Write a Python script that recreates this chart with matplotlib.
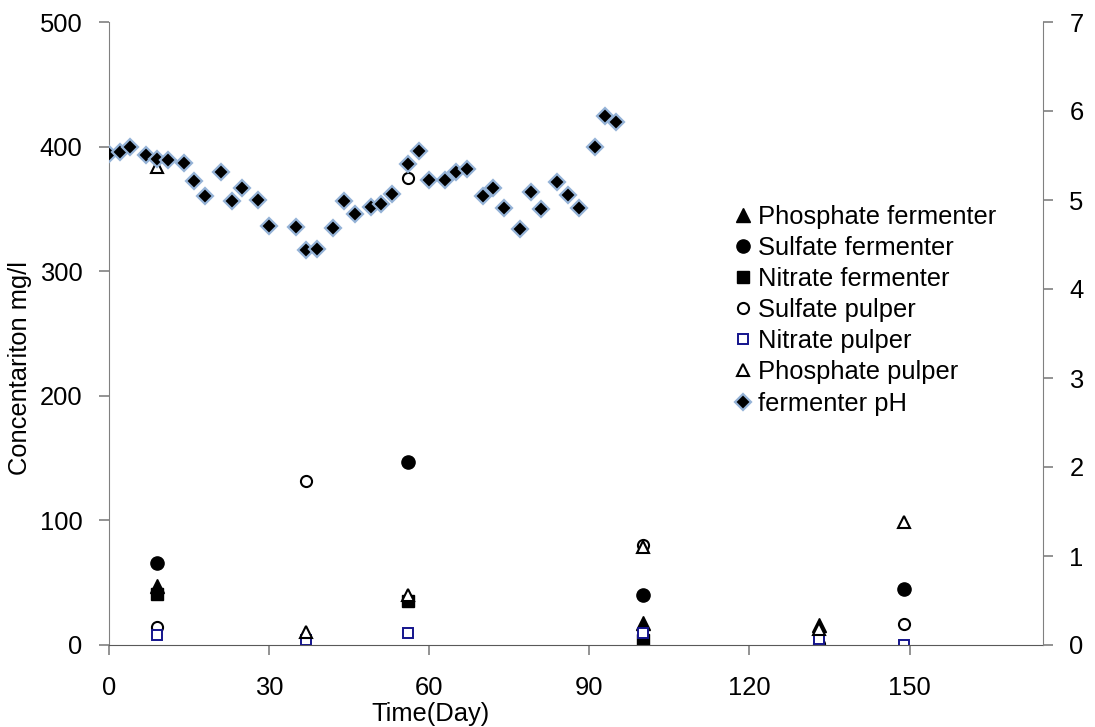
import matplotlib
matplotlib.use("Agg")
import matplotlib.pyplot as plt

plt.rcParams['font.family'] = ['Liberation Sans', 'DejaVu Sans']

# Ion concentrations (mg/l) by sampling day
phos_ferm_day = [9, 100, 133]
phos_ferm_val = [47, 17.5, 16]

sulf_ferm_day = [9, 56, 100, 149]
sulf_ferm_val = [66, 147, 40, 45]

nitr_ferm_day = [9, 56, 100]
nitr_ferm_val = [41, 35.5, 4]

sulf_pulp_day = [9, 37, 56, 100, 133, 149]
sulf_pulp_val = [14.5, 132, 375, 80.5, 0.5, 17]

nitr_pulp_day = [9, 37, 56, 100, 133, 149]
nitr_pulp_val = [8, 4, 9.5, 10, 4.5, 0]

phos_pulp_day = [9, 37, 56, 100, 133, 149]
phos_pulp_val = [384, 10.5, 40, 79, 12.5, 99]

# Fermenter pH by day
ph_day = [0, 2, 4, 7, 9, 11, 14, 16, 18, 21, 23, 25, 28, 30, 35, 37, 39, 42,
          44, 46, 49, 51, 53, 56, 58, 60, 63, 65, 67, 70, 72, 74, 77, 79, 81,
          84, 86, 88, 91, 93, 95]
ph_val = [5.52, 5.54, 5.59, 5.51, 5.46, 5.45, 5.42, 5.21, 5.05, 5.31, 4.99,
          5.14, 5.00, 4.71, 4.70, 4.44, 4.45, 4.68, 4.99, 4.84, 4.92, 4.96,
          5.07, 5.40, 5.55, 5.22, 5.22, 5.32, 5.35, 5.05, 5.14, 4.91, 4.67,
          5.09, 4.90, 5.20, 5.06, 4.91, 5.59, 5.94, 5.88]

x_ticks = [0, 30, 60, 90, 120, 150]
y_ticks = [0, 100, 200, 300, 400, 500]
y2_ticks = [0, 1, 2, 3, 4, 5, 6, 7]

FS = 18.4
NAVY = '#14148C'
SPINE = '#808080'

fig = plt.figure(figsize=(10.95, 7.27), dpi=100)
ax = fig.add_axes([109 / 1095, 1 - 645 / 727, (1043 - 109) / 1095, (645 - 22) / 727])

s1, = ax.plot(phos_ferm_day, phos_ferm_val, ls='none', marker='^', ms=9.5,
              mfc='black', mec='black', label='Phosphate fermenter')
s2, = ax.plot(sulf_ferm_day, sulf_ferm_val, ls='none', marker='o', ms=9.5,
              mfc='black', mec='black', label='Sulfate fermenter')
s3, = ax.plot(nitr_ferm_day, nitr_ferm_val, ls='none', marker='s', ms=9,
              mfc='black', mec='black', label='Nitrate fermenter')
s4, = ax.plot(sulf_pulp_day, sulf_pulp_val, ls='none', marker='o', ms=8,
              mfc='white', mec='black', mew=1.5, label='Sulfate pulper')
s5, = ax.plot(nitr_pulp_day, nitr_pulp_val, ls='none', marker='s', ms=7,
              mfc='white', mec=NAVY, mew=1.4, label='Nitrate pulper')
s6, = ax.plot(phos_pulp_day, phos_pulp_val, ls='none', marker='^', ms=8,
              mfc='white', mec='black', mew=1.5, label='Phosphate pulper')

ax.set_xlim(0, 175)
ax.set_ylim(0, 500)
ax.set_xticks(x_ticks)
ax.set_yticks(y_ticks)

ax2 = ax.twinx()
s7, = ax2.plot(ph_day, ph_val, ls='none', marker='D', ms=7.8,
               mfc='black', mec='#95B3D7', mew=1.6, label='fermenter pH')
ax2.set_ylim(0, 7)
ax2.set_yticks(y2_ticks)

for a in (ax, ax2):
    a.spines['top'].set_visible(False)
    a.tick_params(labelsize=FS, colors=SPINE, labelcolor='black', width=1.2, length=7)
ax.spines['left'].set_color(SPINE)
ax.spines['bottom'].set_color('#595959')
ax.spines['right'].set_visible(False)
ax2.spines['left'].set_visible(False)
ax2.spines['bottom'].set_visible(False)
ax2.spines['right'].set_color(SPINE)
ax.tick_params(axis='y', pad=12)
ax.tick_params(axis='x', pad=15)
ax2.tick_params(axis='y', pad=12)

ax.set_ylabel('Concentariton mg/l', fontsize=FS)
ax.yaxis.set_label_coords(-0.082, 0.445)
ax.set_xlabel('Time(Day)', fontsize=FS)
ax.xaxis.set_label_coords(0.344, -0.092)

handles = [s1, s2, s3, s4, s5, s6, s7]
ax2.legend(handles=handles, loc='upper left', bbox_to_anchor=(0.6715, 0.7185),
           bbox_transform=fig.transFigure, frameon=False, fontsize=FS,
           borderpad=0, labelspacing=0.28, handlelength=0.6, handletextpad=0.3,
           markerscale=1.0, borderaxespad=0)

fig.savefig('out.png', dpi=100)
